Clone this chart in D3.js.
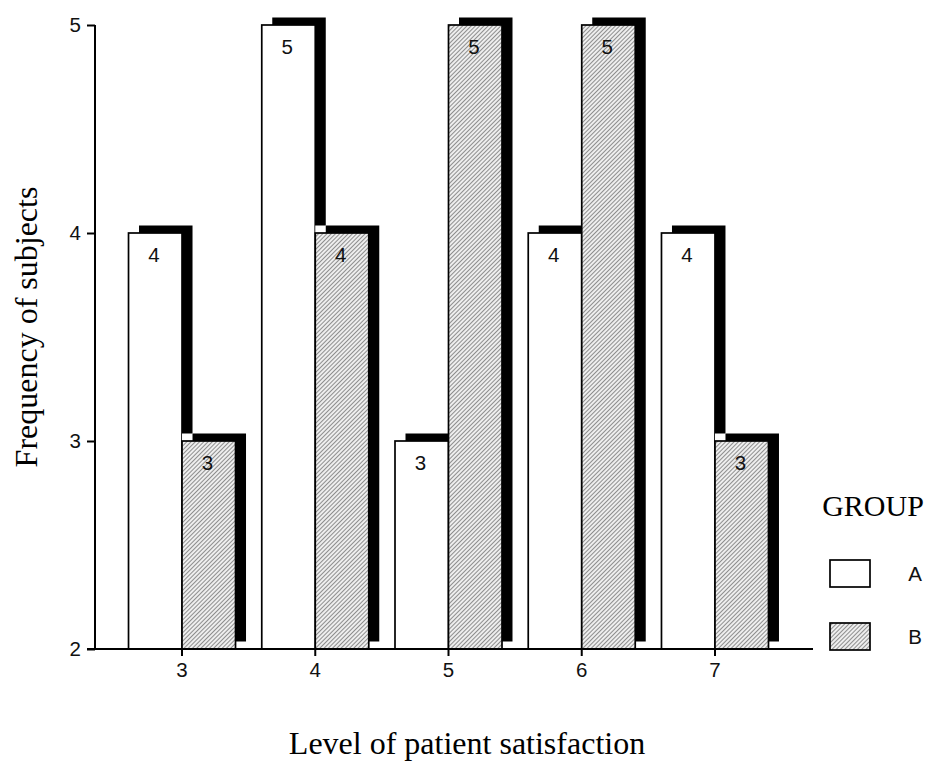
<!DOCTYPE html>
<html>
<head>
<meta charset="utf-8">
<script src="https://cdn.jsdelivr.net/npm/d3@7"></script>
<style>
  html, body { margin: 0; padding: 0; background: #fff; }
  svg { display: block; }
</style>
</head>
<body>
<svg id="chart" width="928" height="764"></svg>
<script>
// Frequency of subjects by level of patient satisfaction, per group
const levels = ["3", "4", "5", "6", "7"];
const groups = ["A", "B"];
const groupA = [4, 5, 3, 4, 4];
const groupB = [3, 4, 5, 5, 3];
const yTicks = [2, 3, 4, 5];

const svg = d3.select("#chart");

const x = d3.scaleBand().domain(levels).range([115.4, 781.6]).padding(0);
const y = d3.scaleLinear().domain([2, 5]).range([649, 25]);
const barW = 53.5;
const depthX = 10.5, depthY = -7.5;
const numFont = "Liberation Sans, Arial, sans-serif";
const numSize = 20.5;

// Hatch fill for group B
const defs = svg.append("defs");
const pat = defs.append("pattern")
  .attr("id", "hatch")
  .attr("patternUnits", "userSpaceOnUse")
  .attr("width", 3).attr("height", 3)
  .attr("patternTransform", "rotate(-45)");
pat.append("rect").attr("width", 3).attr("height", 3).attr("fill", "#eeeeee");
pat.append("line").attr("x1", 0).attr("y1", 0.5).attr("x2", 3).attr("y2", 0.5)
  .attr("stroke", "#8e8e8e").attr("stroke-width", 1.05);

const bars = [];
levels.forEach((lv, i) => {
  const c = x(lv) + x.bandwidth() / 2;
  bars.push({ level: lv, group: "A", value: groupA[i], x0: c - barW });
  bars.push({ level: lv, group: "B", value: groupB[i], x0: c });
});

const base = y(2);
const gBars = svg.append("g");
bars.forEach(d => {
  const top = y(d.value);
  const g = gBars.append("g");
  // clear area behind the block, then the dark depth face, then the front face
  g.append("rect")
    .attr("x", d.x0).attr("y", top + depthY)
    .attr("width", barW + depthX).attr("height", base - top - depthY)
    .attr("fill", "#fff");
  g.append("rect")
    .attr("x", d.x0 + depthX).attr("y", top + depthY)
    .attr("width", barW).attr("height", base - top)
    .attr("fill", "#000");
  g.append("rect")
    .attr("x", d.x0).attr("y", top)
    .attr("width", barW).attr("height", base - top)
    .attr("fill", d.group === "A" ? "#fff" : "url(#hatch)")
    .attr("stroke", "#000").attr("stroke-width", 1.7);
  g.append("text")
    .attr("x", d.x0 + 25.5).attr("y", top + 29)
    .attr("text-anchor", "middle")
    .attr("font-family", numFont)
    .attr("font-size", numSize)
    .attr("fill", "#111")
    .text(d.value);
});

// Y axis
const yAxis = svg.append("g").attr("transform", "translate(95,0)")
  .call(d3.axisLeft(y).tickValues(yTicks).tickFormat(d3.format("d")).tickSize(8).tickPadding(6));
yAxis.select(".domain").attr("d", `M0,${y(5)}V${y(2)}`).attr("stroke-width", 2);
yAxis.selectAll(".tick line").attr("stroke-width", 2);
yAxis.selectAll(".tick text")
  .attr("font-family", numFont)
  .attr("font-size", numSize).attr("fill", "#111");

// X axis
const xAxis = svg.append("g").attr("transform", `translate(0,${base})`)
  .call(d3.axisBottom(x).tickSize(7).tickPadding(6));
xAxis.select(".domain").attr("d", "M87,0H813").attr("stroke-width", 2);
xAxis.selectAll(".tick line").attr("stroke-width", 2);
xAxis.selectAll(".tick text")
  .attr("font-family", numFont)
  .attr("font-size", numSize).attr("fill", "#111");

// Axis titles
svg.append("text")
  .attr("x", 467).attr("y", 754)
  .attr("text-anchor", "middle")
  .attr("font-family", "Liberation Serif, Times New Roman, serif")
  .attr("font-size", 32)
  .text("Level of patient satisfaction");
svg.append("text")
  .attr("transform", "translate(37,327) rotate(-90)")
  .attr("text-anchor", "middle")
  .attr("font-family", "Liberation Serif, Times New Roman, serif")
  .attr("font-size", 32)
  .text("Frequency of subjects");

// Legend
const legend = svg.append("g");
legend.append("text")
  .attr("x", 873).attr("y", 516)
  .attr("text-anchor", "middle")
  .attr("font-family", "Liberation Serif, Times New Roman, serif")
  .attr("font-size", 30)
  .text("GROUP");
const legY = d3.scalePoint().domain(groups).range([573.5, 636.5]);
groups.forEach(gname => {
  legend.append("rect")
    .attr("x", 830).attr("y", legY(gname) - 13.5)
    .attr("width", 40).attr("height", 27)
    .attr("fill", gname === "A" ? "#fff" : "url(#hatch)")
    .attr("stroke", "#000").attr("stroke-width", 1.7);
  legend.append("text")
    .attr("x", 915).attr("y", legY(gname) + 7.5)
    .attr("text-anchor", "middle")
    .attr("font-family", numFont)
    .attr("font-size", numSize).attr("fill", "#111")
    .text(gname);
});
</script>
</body>
</html>
